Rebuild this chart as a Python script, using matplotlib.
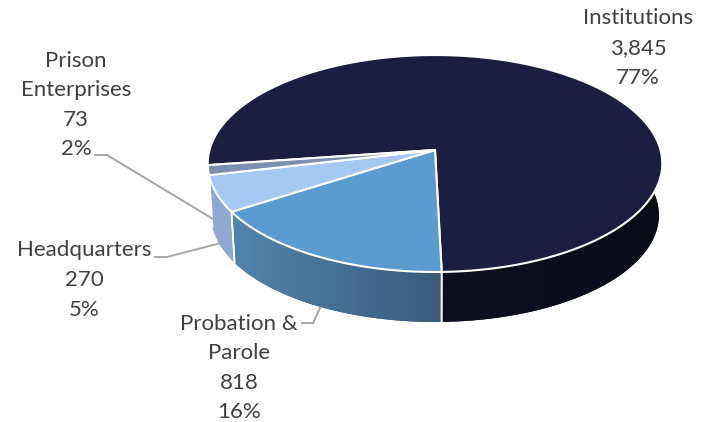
import numpy as np
import matplotlib
matplotlib.use("Agg")
import matplotlib.pyplot as plt
from matplotlib.colors import LinearSegmentedColormap

plt.rcParams['font.family'] = ['Lato', 'DejaVu Sans']

# data
categories = ['Institutions', 'Probation &\nParole', 'Headquarters', 'Prison\nEnterprises']
values = [3845, 818, 270, 73]
percent_labels = ['77%', '16%', '5%', '2%']

top_colors = ['#1b1e40', '#5b9bd0', '#a6c8f5', '#7b8fb0']
side_left = ['#0f0f23', '#5085b0', '#8fa9d2', '#8fa5c8']
side_right = ['#0a0c16', '#3a5a78', '#8fa9d2', '#8fa5c8']

label_xy = [(638, 48), (239, 368), (84, 280), (76, 105)]
leaders = [None,
           [(302, 323), (313, 323), (320, 308)],
           [(155, 257), (167, 257), (221, 243)],
           [(95, 155), (107, 155), (213, 219)]]

# pie geometry in pixels, the tilt is a perspective projection
CX, CY = 435, 150
P, K, Q = 106.8, 0.1245, 225.5
DEPTH = 51.8
BOTTOM_SCALE = 0.985
START = 188
WALL_END = 15  # Institutions wall stops just past the right tangent


def project(theta, bottom=False):
    t = np.radians(theta)
    w = 1 + K * np.sin(t)
    x = Q * np.cos(t) / w
    y = -P * np.sin(t) / w
    if bottom:
        return CX + BOTTOM_SCALE * x, CY + DEPTH + BOTTOM_SCALE * y
    return CX + x, CY + y


fig = plt.figure(figsize=(7.01, 4.22), dpi=100)
ax = fig.add_axes([0, 0, 1, 1])

sweeps = 360 * np.array(values) / sum(values)
ends = START - np.cumsum(sweeps)
starts = ends + sweeps
ranges = list(zip(starts, ends))

# walls first, the top faces cover whatever is behind
for i, (a, b) in enumerate(ranges):
    lo, hi = b, a
    if i == 0:
        hi = WALL_END
    th = np.linspace(lo, hi, 120)
    xt, yt = project(th)
    xb, yb = project(th, bottom=True)
    px = np.r_[xt, xb[::-1]]
    py = np.r_[yt, yb[::-1]]
    poly = ax.fill(px, py, color=side_right[i], lw=0, zorder=1)[0]
    cmap = LinearSegmentedColormap.from_list('side', [side_left[i], side_right[i]])
    im = ax.imshow(np.linspace(0, 1, 256)[None, :], cmap=cmap, aspect='auto',
                   extent=(px.min(), px.max(), py.max(), py.min()), zorder=2)
    im.set_clip_path(poly)
    # seams between the walls
    for t in (lo, hi):
        if i == 0 and t == hi:
            continue
        x0, y0 = project(t)
        x1, y1 = project(t, bottom=True)
        ax.plot([x0, x1], [y0, y1], color='white', lw=1.2, zorder=3)

# top faces
for i, (a, b) in enumerate(ranges):
    th = np.linspace(a, b, 300)
    xt, yt = project(th)
    ax.fill(np.r_[CX, xt], np.r_[CY, yt], facecolor=top_colors[i], edgecolor='white',
            lw=1.5, joinstyle='round', zorder=4)

# leader lines
for pts in leaders:
    if pts is None:
        continue
    ax.plot(*zip(*pts), color='#a5a5a5', lw=1.4, zorder=5, solid_joinstyle='miter')

for name, val, pct, (x, y) in zip(categories, values, percent_labels, label_xy):
    ax.text(x, y, f'{name}\n{val:,}\n{pct}', ha='center', va='center', fontsize=16,
            color='#404040', linespacing=1.6, zorder=6)

ax.set_xlim(0, 701)
ax.set_ylim(422, 0)
ax.axis('off')
fig.savefig('out.png', dpi=100)
